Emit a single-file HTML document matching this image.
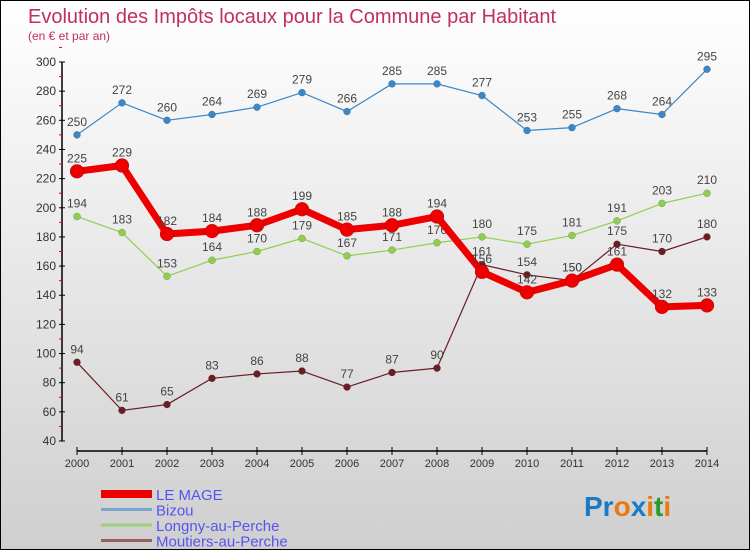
<!DOCTYPE html>
<html><head><meta charset="utf-8"><style>
body{margin:0}
#c{position:relative;width:750px;height:550px;box-sizing:border-box;border:1px solid #000;background:linear-gradient(#ffffff,#cfcfcf);font-family:"Liberation Sans",sans-serif;overflow:hidden}
</style></head><body>
<div id="c">
<svg id="s" width="750" height="550" style="position:absolute;left:0;top:0">
<text x="27" y="22" font-size="20" fill="#c0305a">Evolution des Impôts locaux pour la Commune par Habitant</text>
<text x="27" y="39" font-size="12" fill="#c0305a">(en € et par an)</text>
<g id="axes"></g><g id="series"></g><g id="legend"></g>
<text x="583" y="515" font-size="28" font-weight="bold"><tspan fill="#1a7ac8">Pr</tspan><tspan fill="#e87a10">o</tspan><tspan fill="#1a7ac8">x</tspan><tspan fill="#e87a10">i</tspan><tspan fill="#2a9a30">t</tspan><tspan fill="#e87a10">i</tspan></text>
</svg>
</div>
<script>
const years=[2000,2001,2002,2003,2004,2005,2006,2007,2008,2009,2010,2011,2012,2013,2014];
const yTicks=[40,60,80,100,120,140,160,180,200,220,240,260,280,300];
const leMage=[225,229,182,184,188,199,185,188,194,156,142,150,161,132,133];
const bizou=[250,272,260,264,269,279,266,285,285,277,253,255,268,264,295];
const longny=[194,183,153,164,170,179,167,171,176,180,175,181,191,203,210];
const moutiers=[94,61,65,83,86,88,77,87,90,161,154,150,175,170,180];
const NS="http://www.w3.org/2000/svg";
function X(i){return 76+i*45;}
function Y(v){return 440-(v-40)*(379/260);}
function mk(t,a,p){const e=document.createElementNS(NS,t);for(const k in a)e.setAttribute(k,a[k]);p.appendChild(e);return e;}
const ax=document.getElementById('axes');
const yl=mk('line',{x1:61,y1:Y(300),x2:61,y2:Y(40),stroke:'#000','stroke-width':1.5},ax);


yTicks.forEach(v=>{
 mk('line',{x1:58,y1:Y(v),x2:64,y2:Y(v),stroke:'#000'},ax);
 mk('line',{x1:58,y1:Y(v+10),x2:61,y2:Y(v+10),stroke:'#e00'},ax);
 const t=mk('text',{x:55,y:Y(v)+4,'font-size':12,fill:'#333','text-anchor':'end'},ax);t.textContent=v;
 
 
});
const xl=mk('line',{x1:X(0),y1:450,x2:X(14),y2:450,stroke:'#000','stroke-width':1.5},ax);


years.forEach((y,i)=>{
 mk('line',{x1:X(i),y1:446,x2:X(i),y2:454,stroke:'#000'},ax);
 const t=mk('text',{x:X(i),y:466,'font-size':11,fill:'#333','text-anchor':'middle'},ax);t.textContent=y;
 
 
});
const sg=document.getElementById('series');
function series(data,color,w,r,name){
 const g=mk('g',{},sg);
 
 
 mk('polyline',{points:data.map((v,i)=>X(i)+','+Y(v)).join(' '),fill:'none',stroke:color,'stroke-width':w,'stroke-linejoin':'round'},g);
 data.forEach((v,i)=>{
  const c=mk('circle',{cx:X(i),cy:Y(v),r:r,fill:color,stroke:'rgba(0,0,0,0.3)','stroke-width':0.5},g);
  
  
  const t=mk('text',{x:X(i),y:Y(v)-9,'font-size':12,fill:'#444','text-anchor':'middle'},g);t.textContent=v;
  
  
 });
}
series(bizou,'#3a88c8',1.2,3.5,'bizou');
series(longny,'#8ed04e',1.2,3.5,'longny');
series(moutiers,'#6a1e24',1.2,3.5,'moutiers');
series(leMage,'#ee0000',7,7,'le-mage');
const lg=document.getElementById('legend');
[['LE MAGE','#ee0000',8],['Bizou','#7aa8cc',3],['Longny-au-Perche','#9ad07a',3],['Moutiers-au-Perche','#946060',3]].forEach((d,i)=>{
 const y=493+i*15.5;
 const l=mk('line',{x1:100,y1:y,x2:151,y2:y,stroke:d[1],'stroke-width':d[2]},lg);
 
 
 const t=mk('text',{x:155,y:y+6,'font-size':15,fill:'#5555ee'},lg);t.textContent=d[0];
 
 
});
</script>
</body></html>
